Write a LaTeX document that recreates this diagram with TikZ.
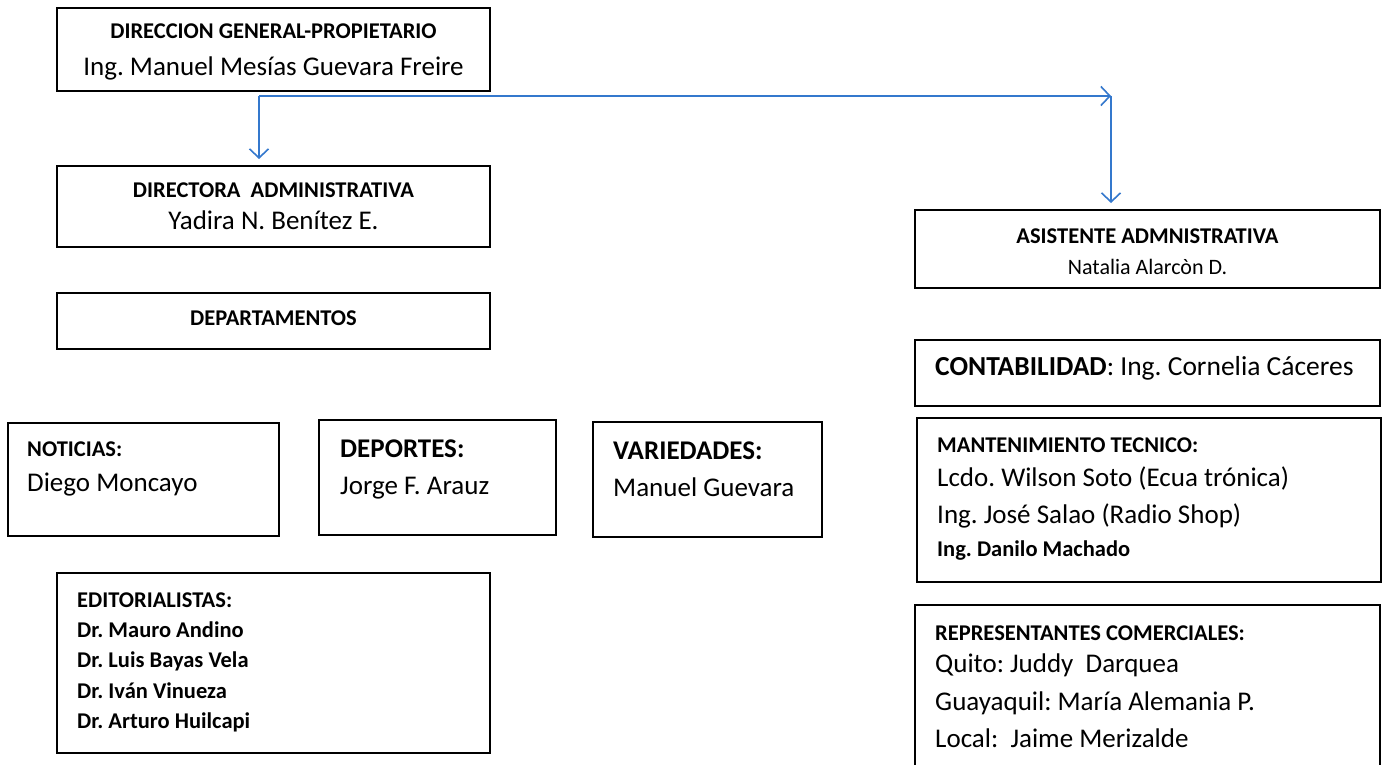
\documentclass[tikz,border=0pt]{standalone}
\usepackage{fontspec}
\setmainfont{Carlito}
\usetikzlibrary{fit,arrows.meta}
\definecolor{linkblue}{RGB}{52,120,205}
\newcommand{\fsz}[1]{\fontsize{#1}{#1}\selectfont}
\frenchspacing
\tikzset{
  box/.style={draw=black, line width=2.1pt, inner sep=0pt, outer sep=0pt},
  ttl/.style={font=\fsz{22.5}\bfseries, inner sep=0pt},
  big/.style={font=\fsz{27}, inner sep=0pt},
  bigb/.style={font=\fsz{27}\bfseries, inner sep=0pt},
  conn/.style={draw=linkblue, line width=1.6pt, -{Straight Barb[length=9pt,width=19pt,line width=1.6pt]}},
}
\begin{document}
\begin{tikzpicture}[x=1pt,y=-1pt]
\useasboundingbox (0,0) rectangle (1386,765);
\fill[white] (0,0) rectangle (1386,765);
% boxes
\node[box, fit={(57,8) (490,91)}] (gen) {};
\node[box, fit={(57,166) (490,247)}] (dir) {};
\node[box, fit={(57,293) (490,349)}] (dep) {};
\node[box, fit={(8,423) (279,536)}] (not) {};
\node[box, fit={(319,420) (556,535)}] (depo) {};
\node[box, fit={(593,422) (822,537)}] (var) {};
\node[box, fit={(57,573) (490,753)}] (edi) {};
\node[box, fit={(915,210) (1380,288)}] (asis) {};
\node[box, fit={(915,340) (1380,406)}] (cont) {};
\node[box, fit={(917,418) (1381,582)}] (mant) {};
\begin{scope}
\clip (0,0) rectangle (1386,765);
\node[box, fit={(915,605) (1380,790)}] (rep) {};
\end{scope}
% texts
\node[ttl, anchor=base] (gen-t) at (273.5,39) {DIRECCION GENERAL-PROPIETARIO};
\node[big, anchor=base] (gen-n) at (273.5,75.5) {Ing. Manuel Mesías Guevara Freire};
\node[ttl, anchor=base] (dir-t) at (273.5,197.5) {DIRECTORA\ \ ADMINISTRATIVA};
\node[big, anchor=base] (dir-n) at (273.5,229.5) {Yadira N. Benítez E.};
\node[ttl, anchor=base] (dep-t) at (273.5,325) {DEPARTAMENTOS};
\node[ttl, anchor=base west] (not-t) at (27,456) {NOTICIAS:};
\node[big, anchor=base west] (not-n) at (27,491) {Diego Moncayo};
\node[bigb, anchor=base west] (depo-t) at (340,457) {DEPORTES:};
\node[big, anchor=base west] (depo-n) at (340,494) {Jorge F. Arauz};
\node[bigb, anchor=base west] (var-t) at (613,459) {VARIEDADES:};
\node[big, anchor=base west] (var-n) at (613,496) {Manuel Guevara};
\node[ttl, anchor=base west] (edi-t) at (77,607) {EDITORIALISTAS:};
\node[ttl, anchor=base west] (edi-1) at (77,637) {Dr. Mauro Andino};
\node[ttl, anchor=base west] (edi-2) at (77,667) {Dr. Luis Bayas Vela};
\node[ttl, anchor=base west] (edi-3) at (77,698) {Dr. Iván Vinueza};
\node[ttl, anchor=base west] (edi-4) at (77,728) {Dr. Arturo Huilcapi};
\node[ttl, anchor=base] (asis-t) at (1147.5,243) {ASISTENTE ADMNISTRATIVA};
\node[font=\fsz{22}, inner sep=0pt, anchor=base] (asis-n) at (1147.5,274) {Natalia Alarcòn D.};
\node[font=\fsz{27.5}, inner sep=0pt, anchor=base west] (cont-t) at (935,375) {\textbf{CONTABILIDAD}: Ing. Cornelia Cáceres};
\node[ttl, anchor=base west] (mant-t) at (937,452) {MANTENIMIENTO TECNICO:};
\node[big, anchor=base west] (mant-1) at (937,486) {Lcdo. Wilson Soto (Ecua trónica)};
\node[big, anchor=base west] (mant-2) at (937,523) {Ing. José Salao (Radio Shop)};
\node[ttl, anchor=base west] (mant-3) at (937,556) {Ing. Danilo Machado};
\node[ttl, anchor=base west] (rep-t) at (935,640) {REPRESENTANTES COMERCIALES:};
\node[big, anchor=base west] (rep-1) at (935,672) {Quito: Juddy\ \ Darquea};
\node[big, anchor=base west] (rep-2) at (935,710) {Guayaquil: María Alemania P.};
\node[big, anchor=base west] (rep-3) at (935,747) {Local:\ \ Jaime Merizalde};
% connectors
\coordinate (j) at (259,96);
\coordinate (k) at (1111,96);
\draw[conn] (j) -- (k);
\draw[conn, shorten >=7pt] (j) -- (j |- dir.north);
\draw[conn, shorten >=7pt] (k) -- (k |- asis.north);
\end{tikzpicture}
\end{document}
